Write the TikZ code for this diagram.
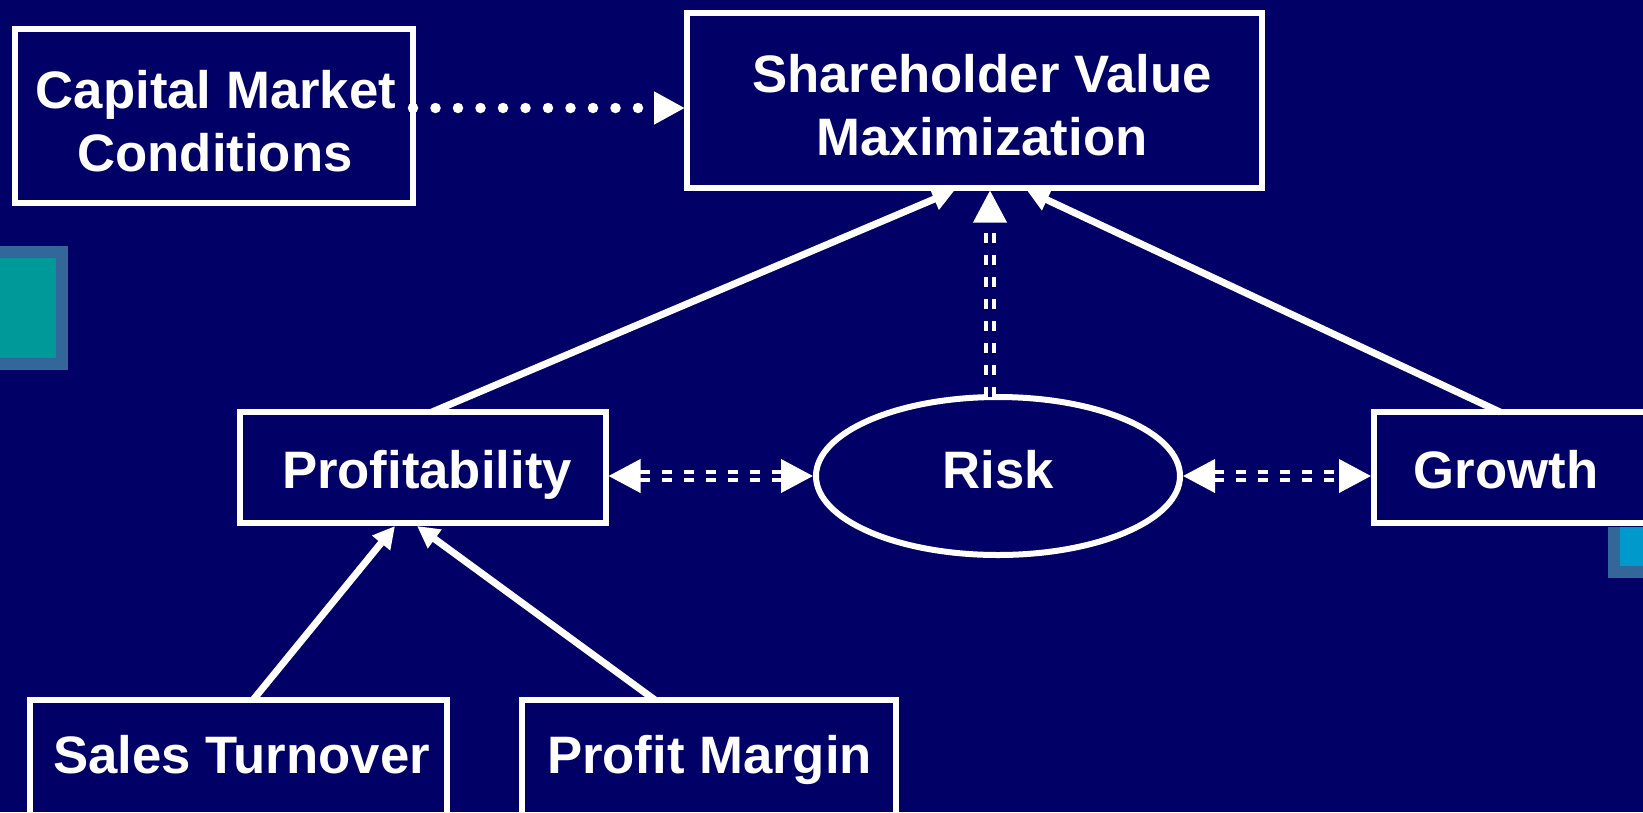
\documentclass[tikz,border=0pt]{standalone}
\usepackage{fontspec}
\setmainfont{Liberation Sans}
\usetikzlibrary{arrows.meta,shapes.geometric,calc}
\definecolor{navy}{HTML}{000066}
\definecolor{steel}{HTML}{336699}
\definecolor{tealc}{HTML}{009999}
\definecolor{skyc}{HTML}{0099CC}
\tikzset{
  box/.style={draw=white, line width=6pt, inner sep=0pt, outer sep=0pt, rectangle},
  ovalbox/.style={draw=white, line width=6pt, inner sep=0pt, outer sep=0pt, ellipse},
  txt/.style={text=white, font=\fontsize{52.7}{64}\selectfont\bfseries, inner sep=0pt, anchor=base},
  solidarrow/.style={draw=white, line width=7pt, -{Triangle[length=22pt,width=22pt]}},
  dbl/.style={draw=white, line width=4pt, double=navy, double distance=4pt, dash pattern=on 10pt off 12pt},
  dbltip/.tip={Triangle[length=32pt,width=33pt]},
  dotarrow/.style={draw=white, line width=10.5pt, line cap=round, dash pattern=on 0pt off 22.5pt, -{Triangle[length=31pt,width=31pt]}}
}
\begin{document}
\begin{tikzpicture}[x=1pt,y=-1pt]
\useasboundingbox (0,0) rectangle (1643,812);
\fill[navy] (0,0) rectangle (1643,812);
% decorative squares
\fill[steel] (-5,246) rectangle (68,370);
\fill[tealc] (-5,258) rectangle (56,358);
\fill[steel] (1608,527) rectangle (1660,578);
\fill[skyc] (1620,527) rectangle (1660,566);
% boxes
\node[box, minimum width=398pt, minimum height=174pt] (cm) at (214,116) {};
\node[box, minimum width=575pt, minimum height=175pt] (sv) at (974.5,100) {};
\node[box, minimum width=366pt, minimum height=111pt] (pr) at (422.5,467.5) {};
\node[ovalbox, minimum width=364pt, minimum height=158pt] (risk) at (998,476) {};
\node[box, minimum width=286pt, minimum height=111pt] (gr) at (1517,467.5) {};
\node[box, minimum width=417pt, minimum height=130pt] (st) at (238.5,765) {};
\node[box, minimum width=374pt, minimum height=130pt] (pm) at (708.5,765) {};
% texts
\node[txt] (t1) at (216,108) {Capital Market};
\node[txt] (t2) at (215,171) {Conditions};
\node[txt] (t3) at (982,92) {Shareholder Value};
\node[txt] (t4) at (982,155) {Maximization};
\node[txt] (t5) at (427,488) {Profitability};
\node[txt] (t6) at (998,488) {Risk};
\node[txt] (t7) at (1506,488) {Growth};
\node[txt] (t8) at (241.5,773) {Sales Turnover};
\node[txt] (t9) at (709.5,773) {Profit Margin};
% connectors
\draw[dotarrow] ($(cm.east)+(0,-8)$) -- ($(sv.west)+(-2,8)$);
\draw[solidarrow] ($(pr.north)+(9.5,0)$) -- ($(sv.south)+(-20,3)$);
\draw[solidarrow] ($(gr.north)+(-17,0)$) -- ($(sv.south)+(52.5,3)$);
\draw[solidarrow] ($(st.north)+(14.5,0)$) -- ($(pr.south)+(-27.5,3)$);
\draw[solidarrow] ($(pm.north)+(-53.5,0)$) -- ($(pr.south)+(-5.5,3)$);
\draw[dbl, -{dbltip}] ($(risk.north)+(-8,0)$) -- ($(sv.south)+(15.5,3)$);
\draw[dbl, {dbltip}-{dbltip}] ($(risk.west -| pr.east)+(3,0)$) -- ($(risk.west)+(-3,0)$);
\draw[dbl, {dbltip}-{dbltip}] ($(risk.east)+(3,0)$) -- ($(risk.east -| gr.west)+(-3,0)$);
\end{tikzpicture}
\end{document}
